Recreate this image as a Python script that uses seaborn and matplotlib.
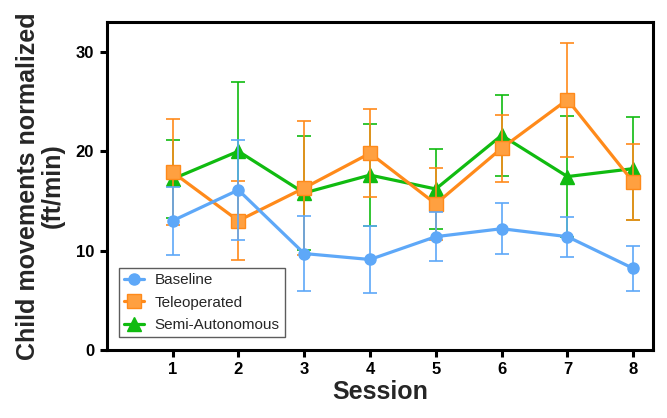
import matplotlib
matplotlib.use("Agg")
import matplotlib.pyplot as plt
import seaborn as sns
import pandas as pd
import numpy as np
from matplotlib.lines import Line2D

sessions = [1, 2, 3, 4, 5, 6, 7, 8]
baseline = [13.0, 16.1, 9.7, 9.1, 11.4, 12.2, 11.4, 8.2]
baseline_err = [3.4, 5.0, 3.8, 3.4, 2.5, 2.55, 2.0, 2.3]
teleop = [17.9, 13.0, 16.3, 19.8, 14.7, 20.3, 25.2, 16.9]
teleop_err = [5.3, 4.0, 6.7, 4.45, 3.65, 3.35, 5.75, 3.8]
semi = [17.2, 20.0, 15.8, 17.6, 16.2, 21.6, 17.45, 18.25]
semi_err = [3.9, 7.0, 5.7, 5.1, 4.0, 4.1, 6.05, 5.15]
series_names = ["Baseline", "Teleoperated", "Semi-Autonomous"]

sns.set_style("ticks")
plt.rcParams['font.family'] = ['Liberation Sans', 'DejaVu Sans']

df = pd.DataFrame({
    "Session": sessions * 3,
    "Value": baseline + teleop + semi,
    "Err": baseline_err + teleop_err + semi_err,
    "Condition": [series_names[0]] * 8 + [series_names[1]] * 8 + [series_names[2]] * 8,
})

fig = plt.figure(figsize=(6.67, 4.18), dpi=100)
ax = fig.add_axes([0.160, 0.163, 0.819, 0.784])

colors = {"Baseline": "#5EA8F8", "Teleoperated": "#FF8A1A", "Semi-Autonomous": "#10BB10"}
mfc = {"Baseline": "#5EA8F8", "Teleoperated": "#FFA040", "Semi-Autonomous": "#10BB10"}
markers = {"Baseline": "o", "Teleoperated": "s", "Semi-Autonomous": "^"}
msize = {"Baseline": 8, "Teleoperated": 10, "Semi-Autonomous": 10}
order_draw = ["Semi-Autonomous", "Teleoperated", "Baseline"]
z = {"Semi-Autonomous": 3, "Teleoperated": 4, "Baseline": 5}

for name in order_draw:
    sub = df[df["Condition"] == name]
    ax.errorbar(sub["Session"], sub["Value"], yerr=sub["Err"], fmt="none",
                ecolor=colors[name], elinewidth=1.2, capsize=4.8, capthick=1.2,
                zorder=z[name] - 0.5)
    sns.lineplot(data=sub, x="Session", y="Value", ax=ax, color=colors[name],
                 linewidth=2.3, marker=markers[name], markersize=msize[name],
                 markerfacecolor=mfc[name], markeredgecolor=colors[name],
                 markeredgewidth=1.0, label=name, zorder=z[name], legend=False)

handles = [Line2D([0], [0], color=colors[n], lw=2.3, marker=markers[n],
                  markersize=msize[n], markerfacecolor=mfc[n],
                  markeredgecolor=colors[n]) for n in series_names]
leg = ax.legend(handles, series_names, loc="lower left", bbox_to_anchor=(0.008, 0.015),
                fontsize=11, frameon=True, fancybox=False, handlelength=1.3,
                borderpad=0.35, labelspacing=0.55, handletextpad=0.7)
leg.get_frame().set_edgecolor("#333333")
leg.get_frame().set_linewidth(1.0)

ax.set_xlim(0, 8.3)
ax.set_ylim(0, 33)
ax.set_xticks(sessions)
ax.set_yticks([0, 10, 20, 30])
ax.set_xlabel("Session", fontsize=18, fontweight="bold", labelpad=2)
ax.set_ylabel("Child movements normalized\n(ft/min)", fontsize=18, fontweight="bold",
              labelpad=8, linespacing=1.05)
for lab in ax.get_xticklabels() + ax.get_yticklabels():
    lab.set_fontweight("bold")
    lab.set_fontsize(12)
for s in ax.spines.values():
    s.set_visible(True)
    s.set_linewidth(2.2)
    s.set_color("black")
ax.tick_params(axis="both", which="major", width=2.2, length=5, direction="out",
               pad=4, top=False, right=False, colors="black")

fig.savefig("out.png", dpi=100)
